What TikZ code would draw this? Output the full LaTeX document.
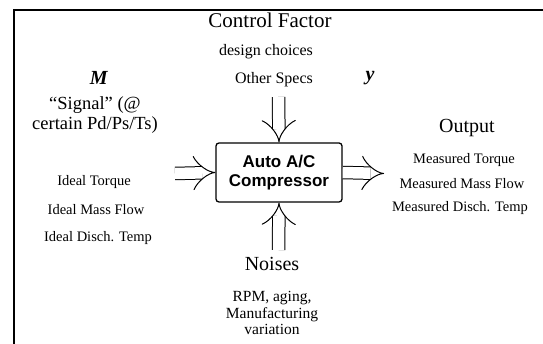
\documentclass[tikz,border=0pt]{standalone}
\usepackage{fontspec}
\setmainfont{Liberation Serif}
\newfontfamily\boxfont{Liberation Sans}
\usetikzlibrary{arrows.meta,positioning}

\begin{document}
\begin{tikzpicture}[x=1pt, y=-1pt, line width=0.9pt,
  big/.style={font=\fontsize{20}{22}\selectfont},
  mid/.style={font=\fontsize{16}{17}\selectfont},
  small/.style={font=\fontsize{14.5}{16}\selectfont},
  flow/.style={double, double distance=11.5pt, line width=1pt,
    -{Implies[length=7pt, width=26pt]}}]

\useasboundingbox (0,0) rectangle (543,344);
\draw[line width=1.8pt] (14,344) -- (14,10) -- (543,10);

\node[big, font=\fontsize{21}{22}\selectfont] (cf) at (270,20) {Control Factor};
\node[mid] (dc) at (266,52) {design choices};
\node[mid] (os) at (274,80) {Other Specs};

\node[big] (m) at (99,78) {\textbf{\textit{M}}};
\node[big, align=center, font=\fontsize{18.5}{20}\selectfont] (sig) at (95,115)
  {``Signal'' (@\\certain Pd/Ps/Ts)};
\node[small] (it) at (94,182) {Ideal Torque};
\node[small] (im) at (96,210) {Ideal Mass Flow};
\node[small] (id) at (98,238) {Ideal Disch. Temp};

\node[big] (y) at (370,78) {\textbf{\textit{y}}};
\node[big] (out) at (467,128) {Output};
\node[small] (mt) at (464,160) {Measured Torque};
\node[small] (mm) at (462,184) {Measured Mass Flow};
\node[small] (md) at (460,208) {Measured Disch. Temp};

\node[draw, rounded corners=3pt, minimum width=126pt, minimum height=59pt,
  line width=1.3pt, align=center,
  font=\boxfont\bfseries\fontsize{17}{18.5}\selectfont] (comp) at (279,172.5)
  {Auto A/C\\Compressor};

\node[big] (noi) at (272,264) {Noises};
\node[mid, align=center, font=\fontsize{15.5}{16.5}\selectfont] (nd) at (272,313)
  {RPM, aging,\\Manufacturing\\variation};

\coordinate (ctop) at (278.5,97);
\coordinate (nbot) at (278.5,250);
\coordinate (sin) at (175,173.5);
\coordinate (yout) at (384,173.5);

\draw[flow] (ctop) -- (comp.north);
\draw[flow] (nbot) -- (comp.south);
\draw[flow] (sin) -- (comp.west);
\draw[flow] (comp.east) -- (yout);

\end{tikzpicture}
\end{document}
